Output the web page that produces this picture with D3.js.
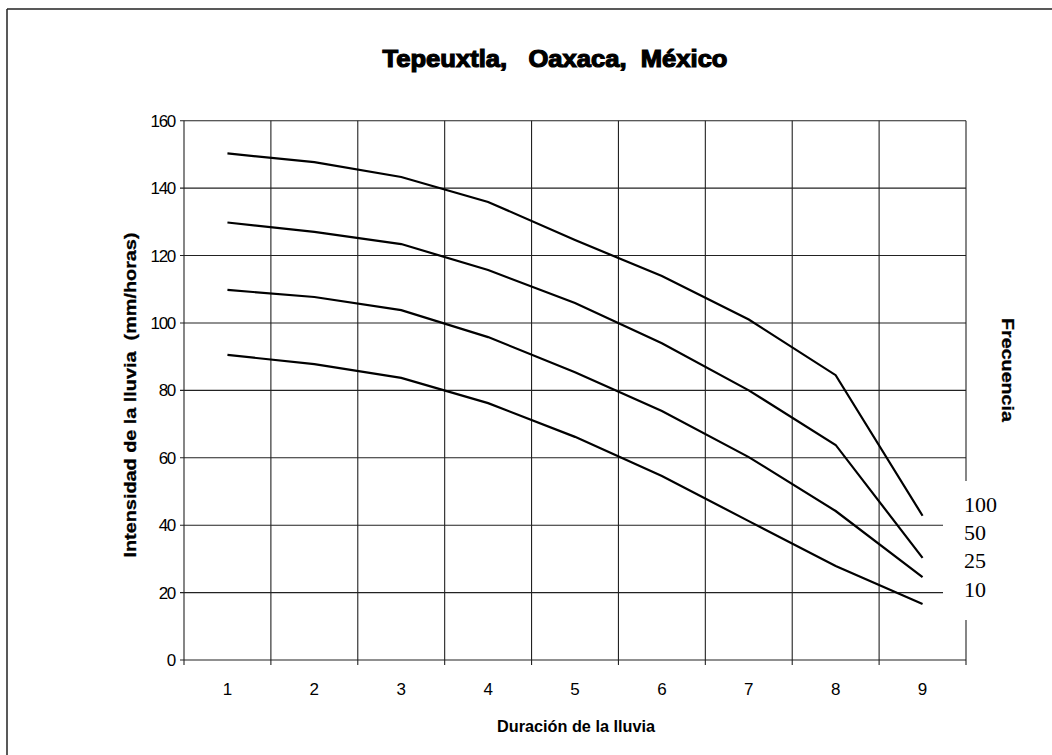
<!DOCTYPE html>
<html>
<head>
  <meta charset="utf-8">
  <script src="https://cdn.jsdelivr.net/npm/d3@7"></script>
  <style>
    body { margin: 0; background: #fff; }
    svg text { fill: #000; }
  </style>
</head>
<body>
<svg id="chart" width="1052" height="755"></svg>

<script>
  // duration categories and rainfall intensity per return period
  var duracion = ['1', '2', '3', '4', '5', '6', '7', '8', '9'];
  var yTicks = [0, 20, 40, 60, 80, 100, 120, 140, 160];
  var frecuencias = ['100', '50', '25', '10'];
  var f100 = [150.3, 147.7, 143.3, 135.9, 124.6, 113.9, 101.0, 84.5, 42.8];
  var f50  = [129.8, 127.0, 123.4, 115.7, 105.9, 94.0, 80.0, 63.8, 30.3];
  var f25  = [109.8, 107.7, 103.8, 95.8, 85.4, 73.9, 60.2, 44.2, 24.6];
  var f10  = [90.5, 87.8, 83.7, 76.2, 66.2, 54.6, 41.2, 27.9, 16.6];
  var series = [f100, f50, f25, f10];

  var svg = d3.select('#chart');

  // page frame (only top and left edges show in the scan)
  svg.append('line').attr('x1', 7).attr('y1', 9).attr('x2', 1052).attr('y2', 9)
    .attr('stroke', '#222').attr('stroke-width', 1.5);
  svg.append('line').attr('x1', 7).attr('y1', 9).attr('x2', 7).attr('y2', 755)
    .attr('stroke', '#222').attr('stroke-width', 1.5);

  var x = d3.scaleBand().domain(duracion).range([184, 966]);
  var y = d3.scaleLinear().domain([0, 160]).range([660, 120.7]);

  var grid = svg.append('g').attr('stroke', '#222').attr('stroke-width', 1.1);

  // horizontal grid
  grid.selectAll('line.h').data(yTicks).enter().append('line')
    .attr('class', 'h')
    .attr('x1', 180).attr('x2', 966)
    .attr('y1', function(d){ return y(d); })
    .attr('y2', function(d){ return y(d); });

  // vertical grid at category boundaries
  var bounds = duracion.map(function(c){ return x(c); }).concat([x.range()[1]]);
  grid.selectAll('line.v').data(bounds).enter().append('line')
    .attr('class', 'v')
    .attr('x1', function(d){ return d; }).attr('x2', function(d){ return d; })
    .attr('y1', y(160)).attr('y2', y(0) + 5);

  // y tick labels
  svg.append('g').selectAll('text').data(yTicks).enter().append('text')
    .attr('x', 175).attr('y', function(d){ return y(d) + 6; })
    .attr('text-anchor', 'end')
    .style('font-family', 'Liberation Sans, Arial, sans-serif')
    .style('font-size', '17px')
    .style('letter-spacing', '-1.3px')
    .text(function(d){ return d; });

  // x tick labels
  svg.append('g').selectAll('text').data(duracion).enter().append('text')
    .attr('x', function(d){ return x(d) + x.bandwidth() / 2; })
    .attr('y', 695)
    .attr('text-anchor', 'middle')
    .style('font-family', 'Liberation Sans, Arial, sans-serif')
    .style('font-size', '17px')
    .text(function(d){ return d; });

  // curves
  var line = d3.line()
    .x(function(d, i){ return x(duracion[i]) + x.bandwidth() / 2; })
    .y(function(d){ return y(d); });

  svg.append('g').selectAll('path').data(series).enter().append('path')
    .attr('d', line)
    .attr('fill', 'none')
    .attr('stroke', '#000')
    .attr('stroke-width', 2.2);

  // legend box covering the right edge
  svg.append('rect').attr('x', 943).attr('y', 481).attr('width', 90).attr('height', 139)
    .attr('fill', '#fff');

  var legY = [512, 540, 568, 597];
  svg.append('g').selectAll('text').data(frecuencias).enter().append('text')
    .attr('x', 964)
    .attr('y', function(d, i){ return legY[i]; })
    .style('font-family', 'Liberation Serif, Times New Roman, serif')
    .style('font-size', '22px')
    .text(function(d){ return d; });

  // titles
  svg.append('text')
    .attr('x', 555).attr('y', 67)
    .attr('text-anchor', 'middle')
    .attr('textLength', 345).attr('lengthAdjust', 'spacingAndGlyphs')
    .attr('stroke', '#000').attr('stroke-width', 1.2)
    .style('font-family', 'Liberation Sans, Arial, sans-serif')
    .style('font-weight', 'bold')
    .style('font-size', '24px')
    .style('white-space', 'pre')
    .text('Tepeuxtla,   Oaxaca,  México');

  svg.append('text')
    .attr('transform', 'translate(136,395) rotate(-90)')
    .attr('text-anchor', 'middle')
    .attr('textLength', 325).attr('lengthAdjust', 'spacingAndGlyphs')
    .attr('stroke', '#000').attr('stroke-width', 0.3)
    .style('font-family', 'Liberation Sans, Arial, sans-serif')
    .style('font-weight', 'bold')
    .style('font-size', '16px')
    .style('white-space', 'pre')
    .text('Intensidad de la lluvia  (mm/horas)');

  svg.append('text')
    .attr('x', 576).attr('y', 732)
    .attr('text-anchor', 'middle')
    .attr('textLength', 158).attr('lengthAdjust', 'spacingAndGlyphs')
    .style('font-family', 'Liberation Sans, Arial, sans-serif')
    .style('font-weight', 'bold')
    .style('font-size', '16px')
    .text('Duración de la lluvia');

  svg.append('text')
    .attr('transform', 'translate(1002,370) rotate(90)')
    .attr('text-anchor', 'middle')
    .attr('textLength', 104).attr('lengthAdjust', 'spacingAndGlyphs')
    .attr('stroke', '#000').attr('stroke-width', 0.3)
    .style('font-family', 'Liberation Sans, Arial, sans-serif')
    .style('font-weight', 'bold')
    .style('font-size', '16px')
    .text('Frecuencia');
</script>
</body>
</html>
